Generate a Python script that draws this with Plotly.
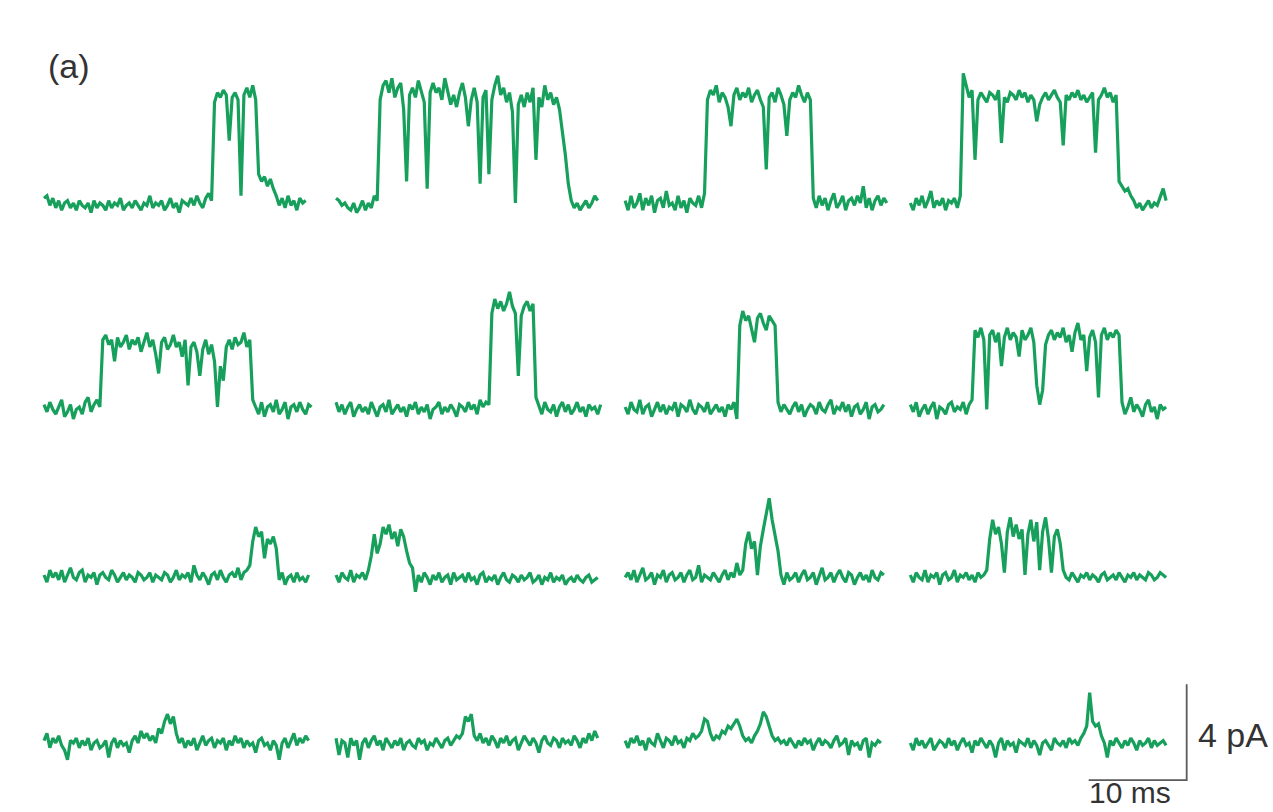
import plotly.graph_objects as go

# ---------------- data (pA relative to closed level, sampled every 0.3 ms) ----------------
DT_MS = 0.3

r1_t1 = [0.2, 0.3, -0.1, 0.2, -0.2, 0.1, -0.3, 0.0, 0.1, -0.2,
         0.0, -0.3, 0.1, -0.1, -0.2, 0.0, -0.4, 0.1, -0.2, 0.0,
         -0.1, -0.3, 0.1, -0.2, 0.0, -0.1, 0.2, -0.3, -0.1, 0.0,
         -0.2, 0.1, -0.1, -0.3, 0.0, -0.1, 0.3, -0.2, 0.0, -0.1,
         0.1, -0.3, -0.1, 0.2, -0.2, 0.0, -0.4, 0.1, 0.0, -0.1,
         0.2, -0.1, 0.3, 0.0, -0.2, 0.2, 0.4, 0.1,
         4.2, 4.6, 4.4, 4.7, 4.5, 2.6, 4.4, 4.6, 4.3, 0.3, 4.5, 4.8, 4.4, 4.9, 4.3,
         1.2, 0.9, 1.1, 0.7, 1.0, 0.6, 0.3,
         -0.1, 0.2, -0.2, 0.3, -0.1, 0.1, -0.3, 0.2, 0.0, 0.1]

r1_t2 = [0.2, 0.1, -0.1, 0.0, -0.2, -0.3, 0.0, -0.4, -0.2, 0.1, -0.3, 0.0, -0.2, 0.3, 0.1,
         4.3, 4.9, 5.1, 4.6, 5.2, 4.4, 4.8, 5.0, 3.9, 0.9, 4.5, 4.8, 4.4, 5.1, 4.7,
         4.2, 0.6, 4.6, 5.0, 4.6, 4.8, 4.3, 5.2, 4.7, 4.1, 4.5, 4.0, 4.6, 5.0, 4.4,
         3.2, 4.3, 4.8, 4.2, 0.8, 4.4, 4.7, 1.2, 4.3, 4.9, 5.3, 4.5, 4.8, 4.2, 4.6,
         3.8, 0.0, 4.1, 4.5, 4.0, 4.6, 4.2, 4.8, 1.8, 4.4, 4.0, 4.9, 4.3, 4.6, 4.1,
         4.4, 3.9, 3.0, 2.0, 0.8,
         0.1, -0.2, 0.0, -0.3, -0.1, 0.1, -0.2, 0.0, 0.3, 0.1]

r1_t3 = [0.1, -0.3, 0.3, -0.2, 0.0, 0.4, -0.3, 0.2, -0.1, 0.3,
         -0.4, 0.1, 0.2, -0.2, 0.5, -0.1, 0.0, -0.3, 0.3, -0.2,
         0.1, -0.4, 0.2, 0.0, -0.1, 0.3, -0.2, 0.4,
         4.3, 4.7, 4.5, 4.9, 4.2, 4.6, 4.4, 4.0, 3.2, 4.5,
         4.8, 4.3, 4.6, 4.4, 4.8, 4.2, 4.5, 4.7, 4.3, 4.0,
         1.4, 4.4, 4.6, 4.2, 4.8, 4.5, 4.1, 2.8, 4.3, 4.6,
         4.4, 4.9, 4.5, 4.2, 4.6, 4.3,
         0.2, -0.2, 0.3, -0.1, 0.2, -0.3, 0.1, 0.4, -0.2, 0.0,
         0.3, -0.3, 0.1, 0.2, -0.1, 0.3, 0.0, 0.7, -0.2, 0.2,
         -0.3, 0.1, 0.3, -0.1, 0.2, 0.0]

r1_t4 = [0.0, -0.3, 0.2, -0.1, 0.3, -0.2, 0.1, 0.5, -0.2, 0.1, -0.1, 0.2, -0.3, 0.1, 0.0, 0.2, -0.2, 0.3,
         5.4, 4.9, 4.4, 4.7, 1.8, 4.3, 4.6, 4.4, 4.2, 4.6,
         4.5, 4.3, 4.7, 2.5, 4.4, 4.2, 4.6, 4.5, 4.3, 4.7,
         4.4, 4.6, 4.2, 4.5, 4.3, 3.4, 4.1, 4.4, 4.6, 4.3,
         4.5, 4.7, 4.4, 4.2, 2.4, 4.5, 4.3, 4.6, 4.4, 4.7,
         4.3, 4.5, 4.2, 4.4, 4.6, 2.1, 4.3, 4.5, 4.8, 4.4,
         4.6, 4.2, 4.5,
         0.9, 0.7, 0.5, 0.6, 0.3, 0.1, -0.2, 0.0, -0.3, -0.1, 0.1, -0.2, 0.0, -0.1, 0.3, 0.6, 0.1]

r2_t1 = [0.2, -0.1, 0.3, 0.0, -0.2, 0.1, 0.4, -0.3, -0.1, 0.2,
         -0.4, 0.0, 0.1, -0.2, 0.3, 0.5, -0.1, 0.2, 0.4, 0.1,
         2.9, 3.1, 2.7, 2.9, 2.0, 3.0, 2.6, 2.8, 3.1, 2.5,
         2.9, 2.7, 3.0, 2.4, 2.8, 3.2, 2.6, 2.9, 2.3, 1.5,
         2.8, 3.0, 2.5, 2.7, 3.1, 2.6, 2.8, 2.2, 2.9, 1.0,
         2.6, 2.8, 2.4, 1.4, 2.5, 2.9, 2.3, 2.7, 2.0, 0.1,
         1.8, 1.2, 2.6, 2.9, 2.5, 3.0, 2.7, 2.8, 3.2, 2.6, 2.9,
         0.4, 0.1, -0.2, 0.3, -0.3, 0.1, 0.2, -0.1, 0.4, -0.2,
         0.0, 0.3, -0.4, 0.1, 0.2, -0.1, 0.3, 0.0, -0.2, 0.2, 0.1]

r2_t2 = [0.3, -0.1, 0.2, -0.2, 0.1, 0.3, -0.3, 0.0, 0.2, -0.1,
         0.1, -0.2, 0.3, 0.0, -0.3, 0.1, 0.2, -0.1, 0.4, -0.2,
         0.0, 0.2, -0.1, 0.1, -0.3, 0.2, 0.0, 0.3, -0.2, 0.1,
         -0.1, 0.2, -0.4, 0.0, 0.1, 0.3, -0.2, 0.1, -0.1, 0.2,
         0.0, -0.3, 0.2, 0.1, -0.1, 0.3, 0.0, 0.2, -0.2, 0.4,
         0.1, 0.3, 0.2,
         4.0, 4.6, 4.2, 4.5, 4.1, 4.4, 4.9, 4.3, 4.0, 1.4, 3.9, 4.3, 4.5, 4.1, 4.4,
         0.5, 0.1, -0.2, 0.3, 0.0, -0.1, 0.2, -0.3, 0.1, 0.3,
         -0.1, 0.2, -0.2, 0.0, 0.3, -0.1, 0.1, -0.3, 0.2, 0.0,
         0.1, -0.2, 0.2]

r2_t3 = [0.1, -0.2, 0.3, 0.0, -0.1, 0.4, -0.2, 0.1, 0.2, -0.3,
         0.0, 0.3, -0.1, 0.2, -0.2, 0.1, 0.0, 0.3, -0.3, 0.2,
         0.1, -0.1, 0.4, 0.0, -0.2, 0.2, 0.1, -0.1, 0.3, -0.2,
         0.0, 0.2, -0.1, 0.1, -0.3, 0.2, 0.0, 0.3, -0.4,
         3.5, 4.1, 3.7, 3.9, 3.4, 2.8, 3.8, 4.0, 3.6, 3.3, 3.9, 3.7, 3.5,
         0.3, -0.1, 0.2, 0.0, -0.2, 0.1, 0.3, -0.1, 0.2, -0.3,
         0.0, 0.2, 0.1, -0.2, 0.3, 0.0, -0.1, 0.2, 0.4, -0.2,
         0.1, 0.0, 0.3, -0.1, 0.2, -0.3, 0.1, 0.2, -0.2, 0.0,
         0.3, -0.4, 0.1, 0.2, -0.1, 0.0, 0.2]

r2_t4 = [0.2, -0.1, 0.3, -0.3, 0.0, 0.2, -0.2, 0.1, 0.3, -0.4,
         0.1, 0.0, -0.2, 0.2, 0.3, -0.1, 0.1, 0.0, 0.3, -0.2, 0.2, 0.4,
         3.3, 3.0, 3.4, 2.9, 0.0, 3.1, 3.3, 2.8, 3.2, 1.8,
         3.0, 3.4, 2.9, 3.2, 3.0, 2.2, 3.3, 2.9, 3.1, 3.4,
         2.8, 1.0, 0.2, 0.8, 2.7, 3.1, 3.3, 2.9, 3.2, 3.0,
         3.4, 2.8, 3.1, 2.4, 3.2, 3.6, 2.9, 3.1, 1.6, 3.0,
         3.3, 2.8, 0.5, 3.1, 3.4, 2.9, 3.2, 3.0, 3.3, 3.1,
         0.3, -0.2, 0.1, 0.5, -0.1, 0.2, 0.0, -0.3, 0.2, 0.4,
         -0.1, 0.1, -0.4, 0.2, 0.0, 0.1]

r3_t1 = [0.1, -0.2, 0.3, 0.0, 0.2, -0.1, 0.3, -0.2, 0.1, 0.4,
         0.0, -0.1, 0.2, 0.3, -0.2, 0.1, 0.0, 0.2, -0.3, 0.1,
         0.2, 0.0, -0.1, 0.3, 0.1, -0.2, 0.0, 0.2, -0.1, 0.1,
         0.0, -0.2, 0.2, 0.1, -0.1, 0.0, 0.2, -0.2, 0.1, 0.0,
         -0.1, 0.2, 0.1, -0.2, 0.0, 0.3, -0.1, 0.1, 0.0, 0.2,
         -0.2, 0.5, 0.1, -0.1, 0.2, 0.0, -0.3, 0.1, 0.2, -0.1,
         0.3, 0.0, -0.2, 0.1, 0.2, 0.0, 0.4, -0.1, 0.2, 0.3, 0.5,
         1.5, 2.1, 1.7, 1.9, 0.8, 1.6, 1.4, 1.7, 1.2,
         -0.1, 0.2, -0.3, 0.0, 0.1, -0.2, 0.2, -0.1, 0.0, -0.2, 0.1]

r3_t2 = [0.1, -0.2, 0.2, 0.0, -0.1, 0.3, -0.2, 0.1, 0.0, 0.2, -0.1, 0.3,
         0.9, 1.8, 1.0, 1.4, 2.1, 1.8, 2.2, 1.6, 1.9, 1.3, 2.0, 1.7, 1.1, 0.6,
         0.4, -0.6, 0.1, -0.2, 0.2, 0.0, -0.3, 0.1, -0.1, 0.2,
         -0.2, 0.0, 0.1, -0.3, 0.2, -0.1, 0.0, 0.1, -0.2, 0.2,
         -0.1, 0.0, -0.3, 0.1, 0.2, -0.2, 0.0, -0.1, 0.1, -0.3,
         0.0, 0.2, -0.1, -0.2, 0.1, 0.0, -0.2, 0.1, -0.1, 0.0,
         0.2, -0.2, -0.1, 0.1, -0.3, 0.0, -0.1, 0.2, -0.2, 0.0,
         -0.1, 0.1, -0.3, -0.1, 0.0, -0.2, 0.1, -0.1, -0.2, 0.0,
         0.1, -0.2, -0.1, 0.0]

r3_t3 = [0.0, 0.2, -0.1, 0.3, -0.2, 0.1, 0.4, -0.1, 0.0, 0.2,
         -0.3, 0.1, 0.0, 0.3, -0.2, 0.1, 0.2, -0.1, 0.0, 0.2,
         -0.2, 0.1, 0.3, -0.1, 0.0, 0.5, -0.2, 0.1, 0.0, -0.1,
         0.2, 0.0, -0.2, 0.1, 0.3, -0.1, 0.2, 0.0, 0.6, 0.1, 0.3,
         1.4, 1.9, 1.2, 1.5, 0.1, 1.3, 2.0, 2.6, 3.3, 2.4, 1.7, 1.1,
         0.1, -0.3, 0.2, -0.1, 0.0, 0.2, -0.2, 0.1, 0.3, -0.1,
         0.0, 0.2, -0.3, 0.1, 0.4, -0.1, 0.0, 0.2, -0.2, 0.1,
         0.3, 0.0, -0.2, 0.2, 0.1, -0.3, 0.0, 0.2, -0.1, 0.1,
         -0.2, 0.3, 0.0, -0.1, 0.2, 0.1]

r3_t4 = [0.1, -0.2, 0.2, 0.0, -0.1, 0.3, -0.2, 0.1, 0.0, 0.2,
         -0.3, 0.1, 0.2, -0.1, 0.0, 0.3, -0.2, 0.1, 0.0, 0.2,
         -0.1, 0.1, -0.2, 0.2, 0.0, 0.1, 0.3,
         1.6, 2.4, 1.8, 2.1, 1.4, 0.2, 1.9, 2.5, 1.7, 2.2, 1.6, 2.0, 0.1,
         1.8, 2.4, 1.5, 2.3, 0.3, 1.9, 2.5, 1.6, 0.2, 1.7, 2.0, 1.4,
         0.3, 0.0, -0.1, 0.2, 0.0, -0.2, 0.1, 0.0, 0.2, -0.1,
         0.1, 0.0, -0.2, 0.1, 0.2, -0.1, 0.0, 0.1, -0.1, 0.2,
         0.0, -0.2, 0.1, 0.0, 0.2, -0.1, 0.1, 0.0, -0.1, 0.2,
         0.1, -0.1, 0.0, 0.2, 0.1, 0.0]

r4_t1 = [0.2, 0.5, -0.1, 0.3, 0.1, 0.4, 0.0, -0.2, -0.6, 0.2,
         0.1, 0.3, -0.1, 0.2, 0.0, 0.3, -0.2, 0.1, 0.2, -0.1,
         0.0, 0.2, -0.5, 0.1, 0.3, -0.1, 0.2, 0.0, 0.1, -0.3,
         0.2, 0.4, 0.1, 0.6, 0.3, 0.5, 0.2, 0.4, 0.1, 0.7,
         0.5, 1.0, 1.3, 0.9, 1.2, 0.5, 0.1, 0.3, -0.1, 0.2,
         0.0, 0.3, -0.2, 0.1, 0.4, 0.0, 0.2, 0.3, -0.1, 0.2,
         0.1, 0.3, -0.2, 0.2, 0.0, 0.4, 0.1, 0.3, -0.1, 0.2,
         0.0, 0.1, -0.3, 0.2, 0.3, 0.0, 0.1, -0.2, 0.2, 0.0,
         -0.6, 0.1, 0.3, -0.1, 0.2, 0.5, 0.0, 0.3, 0.1, 0.4, 0.2]

r4_t2 = [0.3, -0.4, 0.2, 0.1, -0.5, 0.3, 0.0, 0.2, -0.6, 0.1,
         0.3, -0.1, 0.2, 0.4, 0.0, 0.2, -0.2, 0.3, 0.1, -0.1,
         0.2, 0.0, 0.3, -0.2, 0.1, 0.2, 0.0, -0.1, 0.3, 0.1,
         0.2, -0.2, 0.1, 0.0, 0.3, 0.1, -0.1, 0.2, 0.3, 0.0,
         0.2, 0.4, 0.3, 0.5, 1.2, 1.0, 1.3, 0.4, 0.2, 0.5,
         0.1, 0.3, 0.0, 0.4, 0.2, -0.1, 0.3, 0.1, 0.4, 0.0,
         0.2, 0.3, -0.2, 0.1, 0.4, 0.2, 0.0, 0.3, 0.1, -0.3,
         0.2, 0.4, 0.1, 0.0, 0.3, 0.2, -0.1, 0.3, 0.1, 0.2,
         0.0, 0.4, 0.2, -0.1, 0.3, 0.1, 0.5, 0.2, 0.6, 0.3]

r4_t3 = [0.2, -0.1, 0.3, 0.1, 0.4, 0.0, 0.2, -0.2, 0.3, 0.1,
         0.0, 0.5, 0.2, -0.1, 0.3, 0.2, 0.0, 0.4, 0.1, 0.2,
         -0.1, 0.3, 0.2, 0.5, 0.3, 0.4, 0.6, 1.1, 1.0, 0.5,
         0.2, 0.4, 0.3, 0.6, 0.5, 0.8, 0.7, 0.9, 1.1, 0.8,
         0.4, 0.2, 0.3, 0.1, 0.4, 0.6, 0.9, 1.4, 1.2, 0.8,
         0.4, 0.2, 0.3, 0.1, 0.2, 0.0, 0.3, 0.1, -0.1, 0.2,
         0.0, 0.3, 0.1, 0.2, -0.2, 0.1, 0.3, 0.0, 0.2, 0.1,
         -0.1, 0.2, 0.4, 0.0, 0.1, 0.3, -0.4, 0.2, 0.0, 0.1,
         -0.2, 0.2, 0.3, -0.5, 0.1, 0.0, 0.2, 0.1]

r4_t4 = [0.1, -0.2, 0.3, 0.0, 0.2, -0.1, 0.1, 0.3, -0.2, 0.0,
         0.2, 0.1, -0.1, 0.3, 0.0, 0.2, -0.2, 0.1, 0.3, 0.0,
         0.1, -0.3, 0.2, 0.0, 0.3, 0.1, -0.1, 0.2, 0.0, -0.5,
         0.1, 0.3, -0.2, 0.2, 0.0, 0.1, -0.3, 0.2, 0.1, 0.0,
         0.3, -0.1, 0.2, 0.0, -0.4, 0.1, 0.2, 0.0, -0.2, 0.3,
         0.1, 0.0, 0.2, -0.1, 0.3, 0.1, 0.2, 0.0, 0.3, 0.5,
         0.8, 2.2, 1.0, 0.8, 0.9, 0.4, 0.1, -0.5, 0.2, 0.0,
         0.3, 0.1, -0.1, 0.2, 0.0, 0.3, 0.1, -0.2, 0.2, 0.0,
         0.1, 0.3, -0.1, 0.2, 0.0, 0.1, 0.2, 0.0]

rows = [[r1_t1, r1_t2, r1_t3, r1_t4],
        [r2_t1, r2_t2, r2_t3, r2_t4],
        [r3_t1, r3_t2, r3_t3, r3_t4],
        [r4_t1, r4_t2, r4_t3, r4_t4]]

# sweep layout (ms start of each column, pA offset of each row)
col_start_ms = [0.0, 29.8, 59.3, 88.4]
row_offset_pA = [0.0, -8.6, -15.6, -22.6]

# scale bar
bar_ms = 10
bar_pA = 4
bar_end_ms = 116.6
bar_base_pA = -24.05

GREEN = "#17a05b"
GREY = "#5a5a5a"
TEXT = "#333333"

fig = go.Figure()
for r, row in enumerate(rows):
    for c, vals in enumerate(row):
        xs = [col_start_ms[c] + i * DT_MS for i in range(len(vals))]
        ys = [v + row_offset_pA[r] for v in vals]
        fig.add_trace(go.Scatter(x=xs, y=ys, mode="lines",
                                 line=dict(color=GREEN, width=3.2),
                                 hoverinfo="skip", showlegend=False))

fig.add_trace(go.Scatter(x=[bar_end_ms - bar_ms, bar_end_ms, bar_end_ms],
                         y=[bar_base_pA, bar_base_pA, bar_base_pA + bar_pA],
                         mode="lines", line=dict(color=GREY, width=1.8),
                         hoverinfo="skip", showlegend=False))

font = dict(family="Liberation Sans, Arial, sans-serif", color=TEXT)
fig.add_annotation(x=bar_end_ms + 0.9, y=bar_base_pA + bar_pA / 2 - 0.1, text="4 pA",
                   showarrow=False, xanchor="left", yanchor="middle",
                   font=dict(size=34, **font))
fig.add_annotation(x=bar_end_ms - bar_ms / 2 - 0.8, y=(203 - 811) / 24, text="10 ms",
                   showarrow=False, xanchor="center", yanchor="bottom",
                   font=dict(size=30, **font))
fig.add_annotation(x=0.2, y=(203 - 66) / 24, text="(a)", showarrow=False,
                   xanchor="left", yanchor="middle", font=dict(size=34, **font))

fig.update_layout(
    width=1273, height=812,
    margin=dict(l=0, r=0, t=0, b=0),
    paper_bgcolor="white", plot_bgcolor="white",
    xaxis=dict(range=[-44 / 9.8, (1273 - 44) / 9.8], visible=False, fixedrange=True),
    yaxis=dict(range=[(203 - 812) / 24, 203 / 24], visible=False, fixedrange=True),
)

fig.write_html("out.html", config={"displayModeBar": False},
               post_script="document.body.style.margin='0';document.body.style.overflow='hidden';")
